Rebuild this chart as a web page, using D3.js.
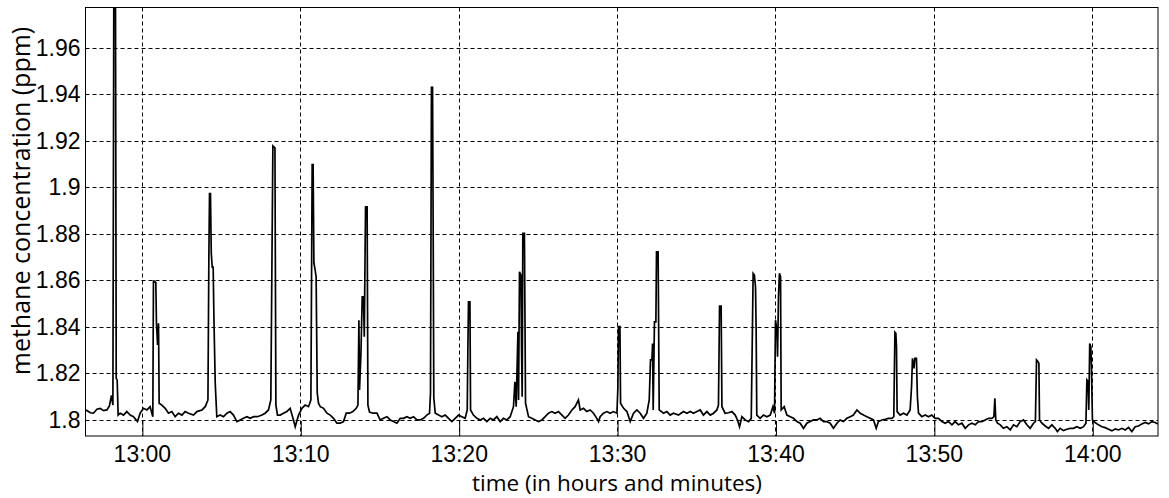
<!DOCTYPE html>
<html>
<head>
<meta charset="utf-8">
<script src="https://cdn.jsdelivr.net/npm/d3@7"></script>
<style>
  body { margin: 0; background: #fff; }
</style>
</head>
<body>
<div id="chart"></div>
<script>
// sample times, minutes after 13:00
const minutes = [
  -3.52,-3.26,-3.06,-2.84,-2.63,-2.42,-2.21,-2.05,-1.92,-1.83,
  -1.77,-1.67,-1.62,-1.56,-1.50,-1.37,-1.16,-0.95,-0.74,-0.53,
  -0.28,-0.11,0.10,0.32,0.52,0.69,0.73,0.78,0.88,0.92,
  0.99,1.05,1.09,1.26,1.47,1.68,1.89,2.10,2.31,2.53,
  2.73,2.94,3.26,3.47,3.79,4.00,4.17,4.23,4.27,4.33,
  4.38,4.44,4.50,4.55,4.63,4.73,4.94,5.15,5.37,5.57,
  5.78,6.00,6.21,6.41,6.63,6.84,7.05,7.30,7.58,7.78,
  7.99,8.14,8.27,8.40,8.46,8.56,8.73,8.94,9.15,9.36,
  9.57,9.68,9.89,10.10,10.31,10.52,10.67,10.75,10.81,10.86,
  10.94,11.00,11.07,11.15,11.26,11.47,11.68,11.89,12.10,12.31,
  12.52,12.73,12.90,13.11,13.32,13.53,13.64,13.70,13.74,13.83,
  13.91,13.99,14.04,14.12,14.22,14.27,14.37,14.58,14.84,
  15.04,15.25,15.47,15.68,15.88,16.10,16.31,16.52,16.73,16.94,
  17.15,17.36,17.57,17.78,17.99,18.16,18.22,18.28,18.35,18.39,
  18.43,18.52,18.73,18.94,19.15,19.36,19.57,19.78,19.99,20.20,
  20.41,20.54,20.58,20.62,20.71,20.75,20.93,21.15,21.36,21.57,
  21.78,21.99,22.20,22.41,22.62,22.83,23.04,23.25,23.46,23.55,
  23.63,23.74,23.78,23.84,23.93,23.97,24.01,24.05,24.15,24.22,
  24.41,24.62,24.83,25.04,25.25,25.46,25.67,25.88,26.09,26.30,
  26.52,26.72,26.93,27.15,27.35,27.56,27.67,27.88,28.09,28.30,
  28.51,28.72,28.83,28.93,29.14,29.36,29.56,29.77,29.99,30.05,
  30.09,30.18,30.22,30.41,30.62,30.83,31.04,31.25,31.46,31.67,
  31.88,32.03,32.11,32.20,32.24,32.28,32.36,32.45,32.49,32.59,
  32.66,32.93,33.14,33.35,33.56,33.88,
  34.19,34.41,34.62,34.82,35.04,35.25,35.45,35.67,35.88,36.09,
  36.30,36.40,36.47,36.57,36.62,36.82,37.03,37.25,37.46,37.60,
  37.73,37.88,38.09,38.30,38.47,38.53,38.59,38.67,38.74,38.78,
  38.82,39.03,39.24,39.46,39.67,39.84,39.94,40.00,40.09,40.13,
  40.19,40.25,40.32,40.36,40.55,40.72,40.93,41.14,41.35,41.56,
  41.77,41.98,42.19,42.40,42.61,42.82,43.03,43.24,43.45,43.66,
  43.88,44.08,44.29,44.51,44.72,44.92,45.14,
  45.35,45.56,45.77,45.98,46.19,46.36,46.50,46.72,46.93,47.13,
  47.35,47.47,47.54,47.60,47.64,47.68,47.87,48.08,48.30,48.50,
  48.59,48.65,48.74,48.80,48.90,48.96,49.03,49.24,49.45,49.66,
  49.87,50.08,50.29,50.51,50.71,50.92,51.14,51.34,51.55,51.77,
  51.98,52.19,52.40,52.61,52.82,53.03,53.24,53.45,53.66,53.79,
  53.85,53.91,54.02,54.19,54.39,54.61,54.82,55.03,55.24,55.45,
  55.66,55.87,56.08,56.29,56.41,56.48,56.57,56.63,56.67,56.82,
  57.03,57.24,57.45,57.66,57.80,57.97,58.18,58.39,58.60,58.81,
  59.03,59.24,59.45,59.60,59.66,59.74,59.78,59.84,59.91,59.95,
  60.01,60.18,60.39,60.61,60.82,61.03,61.24,61.45,61.66,61.87,
  62.08,62.29,62.50,62.71,62.92,63.13,63.34,63.55,63.76,63.97,
  64.14
];

// methane concentration, ppm
const ppm = [
  1.8043,1.8031,1.8029,1.8046,1.8050,1.8040,1.8043,1.8060,1.8106,1.8064,
  1.99,1.99,1.8179,1.8172,1.8021,1.8029,1.8021,1.8036,1.8021,1.8014,
  1.7993,1.8029,1.8050,1.8043,1.8057,1.8014,1.8597,1.8597,1.8590,1.8416,
  1.8322,1.8416,1.8072,1.8064,1.8050,1.8029,1.8036,1.8014,1.8029,1.8021,
  1.8036,1.8029,1.8021,1.8036,1.8043,1.8057,1.8086,1.8717,1.8973,1.8973,
  1.8717,1.8657,1.8657,1.8429,1.8158,1.8014,1.8021,1.8014,1.8029,1.8036,
  1.8021,1.7993,1.8000,1.8007,1.8014,1.8007,1.8014,1.8014,1.8021,1.8029,
  1.8043,1.8086,1.9178,1.9170,1.8064,1.8021,1.8021,1.8029,1.8036,1.8050,
  1.8000,1.7971,1.8021,1.8050,1.8064,1.8057,1.8086,1.9098,1.9098,1.8674,
  1.8644,1.8614,1.8116,1.8072,1.8057,1.8050,1.8029,1.8021,1.8007,1.7986,
  1.7986,1.7993,1.8029,1.8029,1.8036,1.8050,1.8064,1.8429,1.8129,1.8288,
  1.8529,1.8529,1.8358,1.8916,1.8916,1.8064,1.8034,1.8029,1.8029,
  1.8000,1.8007,1.8014,1.8000,1.7993,1.7986,1.8007,1.8007,1.8014,1.8007,
  1.8014,1.8000,1.8000,1.8007,1.8021,1.8029,1.8115,1.9430,1.9430,1.8816,
  1.8094,1.8029,1.8021,1.8014,1.8021,1.8007,1.7993,1.8007,1.8021,1.8014,
  1.8007,1.8043,1.8301,1.8508,1.8508,1.8043,1.8021,1.8007,1.8000,1.8007,
  1.7993,1.8007,1.8000,1.8014,1.7993,1.8007,1.8000,1.8014,1.8057,1.8164,
  1.8057,1.8379,1.8086,1.8637,1.8623,1.8301,1.8100,1.8802,1.8802,1.8072,
  1.8014,1.8007,1.8000,1.7993,1.8000,1.8014,1.8029,1.8036,1.8029,1.8036,
  1.8021,1.8007,1.8021,1.8043,1.8057,1.8086,1.8043,1.8050,1.8036,1.8043,
  1.8029,1.8007,1.7993,1.8014,1.8029,1.8036,1.8029,1.8036,1.8029,1.8137,
  1.8401,1.8401,1.8072,1.8050,1.8036,1.7993,1.8029,1.8043,1.8029,1.8007,
  1.8029,1.8086,1.8258,1.8258,1.8329,1.8043,1.8422,1.8422,1.8723,1.8723,
  1.8043,1.8029,1.8036,1.8021,1.8029,1.8021,
  1.8036,1.8029,1.8036,1.8029,1.8036,1.8043,1.8021,1.8036,1.8021,1.8029,
  1.8043,1.8064,1.8489,1.8489,1.8057,1.8029,1.8031,1.8036,1.8021,1.8000,
  1.7971,1.8014,1.8000,1.7993,1.8007,1.8315,1.8630,1.8623,1.8572,1.8386,
  1.8021,1.8007,1.8021,1.8014,1.8021,1.8057,1.8029,1.8429,1.8386,1.8272,
  1.8529,1.8630,1.8616,1.8043,1.8057,1.8021,1.8014,1.8007,1.7993,1.7986,
  1.7964,1.7986,1.7993,1.8000,1.8000,1.8007,1.7993,1.7993,1.7986,1.7964,
  1.7986,1.8000,1.7993,1.8007,1.8014,1.8021,1.8043,
  1.8029,1.8021,1.8014,1.8007,1.8000,1.7964,1.7993,1.8000,1.8003,1.8007,
  1.8007,1.8014,1.8377,1.8372,1.8315,1.8036,1.8021,1.8029,1.8021,1.8043,
  1.8143,1.8265,1.8222,1.8265,1.8265,1.8100,1.8029,1.8014,1.8021,1.8014,
  1.8021,1.8007,1.8007,1.7993,1.7986,1.7993,1.7979,1.7993,1.7979,1.7986,
  1.7964,1.7979,1.7986,1.7979,1.7993,1.7993,1.8000,1.8007,1.8007,1.8014,
  1.8093,1.8000,1.7986,1.7979,1.7964,1.7971,1.7957,1.7979,1.7971,1.7993,
  1.8000,1.7979,1.7964,1.7986,1.7993,1.8258,1.8251,1.8243,1.8000,1.7986,
  1.7974,1.7964,1.7979,1.7964,1.7950,1.7964,1.7954,1.7960,1.7964,1.7964,
  1.7971,1.7964,1.7971,1.7986,1.8172,1.8165,1.8043,1.8329,1.8315,1.8229,
  1.8000,1.7989,1.7979,1.7971,1.7967,1.7960,1.7953,1.7961,1.7957,1.7964,
  1.7957,1.7968,1.7950,1.7971,1.7974,1.7983,1.7989,1.7983,1.7993,1.7989,
  1.7983
];

const yTicks = [1.80, 1.82, 1.84, 1.86, 1.88, 1.90, 1.92, 1.94, 1.96];
const xTickLabels = ["13:00", "13:10", "13:20", "13:30", "13:40", "13:50", "14:00"];
const timeRange = [-3.56, 64.15];     // minutes after 13:00 shown on the axis
const ppmRange = [1.7931, 1.9773];

const width = 1169, height = 498;
const plot = { left: 85.5, right: 1158, top: 7.5, bottom: 436 };

const parseHM = d3.timeParse("%H:%M");
const base = parseHM("13:00");
const toDate = m => new Date(base.getTime() + m * 60000);

const data = minutes.map((m, i) => ({ t: toDate(m), v: ppm[i] }));

const x = d3.scaleTime()
  .domain(timeRange.map(toDate))
  .range([plot.left, plot.right]);

const y = d3.scaleLinear()
  .domain(ppmRange)
  .range([plot.bottom, plot.top]);

const svg = d3.select('#chart')
  .append('svg')
  .attr('width', width)
  .attr('height', height)
  .style('display', 'block');

svg.append('defs').append('clipPath')
  .attr('id', 'clip')
  .append('rect')
  .attr('x', plot.left)
  .attr('y', plot.top)
  .attr('width', plot.right - plot.left)
  .attr('height', plot.bottom - plot.top);

const tickFont = "'Liberation Sans', Arial, sans-serif";
const titleFont = "'Open Sans', 'Noto Sans', sans-serif";

// horizontal grid
svg.append('g')
  .selectAll('line')
  .data(yTicks)
  .enter()
  .append('line')
  .attr('x1', plot.left)
  .attr('x2', plot.right)
  .attr('y1', d => Math.round(y(d)) + 0.5)
  .attr('y2', d => Math.round(y(d)) + 0.5)
  .attr('stroke', '#000')
  .attr('stroke-width', 1)
  .attr('stroke-dasharray', '4,3');

// vertical grid
const xTicks = xTickLabels.map(parseHM);
svg.append('g')
  .selectAll('line')
  .data(xTicks)
  .enter()
  .append('line')
  .attr('x1', d => Math.round(x(d)) + 0.5)
  .attr('x2', d => Math.round(x(d)) + 0.5)
  .attr('y1', plot.top)
  .attr('y2', plot.bottom)
  .attr('stroke', '#000')
  .attr('stroke-width', 1)
  .attr('stroke-dasharray', '4,3');

// x axis: inner ticks + labels
const xAxis = svg.append('g')
  .attr('transform', 'translate(0,' + plot.bottom + ')')
  .call(d3.axisBottom(x)
    .tickValues(xTicks)
    .tickSize(-15)
    .tickPadding(11)
    .tickFormat(d3.timeFormat("%H:%M")));
xAxis.select('.domain').remove();
xAxis.selectAll('.tick line').attr('stroke', '#000').attr('transform', 'translate(0.5,0)');
xAxis.selectAll('.tick text')
  .attr('y', 10)
  .attr('font-family', tickFont)
  .attr('font-size', 23)
  .attr('fill', '#000');

// y axis labels
const yAxis = svg.append('g')
  .attr('transform', 'translate(' + plot.left + ',0)')
  .call(d3.axisLeft(y)
    .tickValues(yTicks)
    .tickSize(0)
    .tickPadding(5)
    .tickFormat(d => String(+d.toFixed(2))));
yAxis.select('.domain').remove();
yAxis.selectAll('.tick text')
  .attr('font-family', tickFont)
  .attr('font-size', 23)
  .attr('fill', '#000');

// the series
const line = d3.line()
  .x(d => x(d.t))
  .y(d => y(d.v));

svg.append('path')
  .datum(data)
  .attr('clip-path', 'url(#clip)')
  .attr('fill', 'none')
  .attr('stroke', '#000')
  .attr('stroke-width', 1.7)
  .attr('stroke-linejoin', 'miter')
  .attr('d', line);

// frame
svg.append('rect')
  .attr('x', plot.left)
  .attr('y', plot.top)
  .attr('width', plot.right - plot.left)
  .attr('height', plot.bottom - plot.top)
  .attr('fill', 'none')
  .attr('stroke', '#000')
  .attr('stroke-width', 1);

// axis titles
svg.append('text')
  .attr('x', 617)
  .attr('y', 491)
  .attr('text-anchor', 'middle')
  .attr('font-family', titleFont)
  .attr('font-size', 22.5)
  .attr('fill', '#000')
  .text('time (in hours and minutes)');

svg.append('text')
  .attr('transform', 'translate(30,201) rotate(-90)')
  .attr('text-anchor', 'middle')
  .attr('font-family', titleFont)
  .attr('font-size', 25)
  .attr('fill', '#000')
  .text('methane concentration (ppm)');
</script>
</body>
</html>
